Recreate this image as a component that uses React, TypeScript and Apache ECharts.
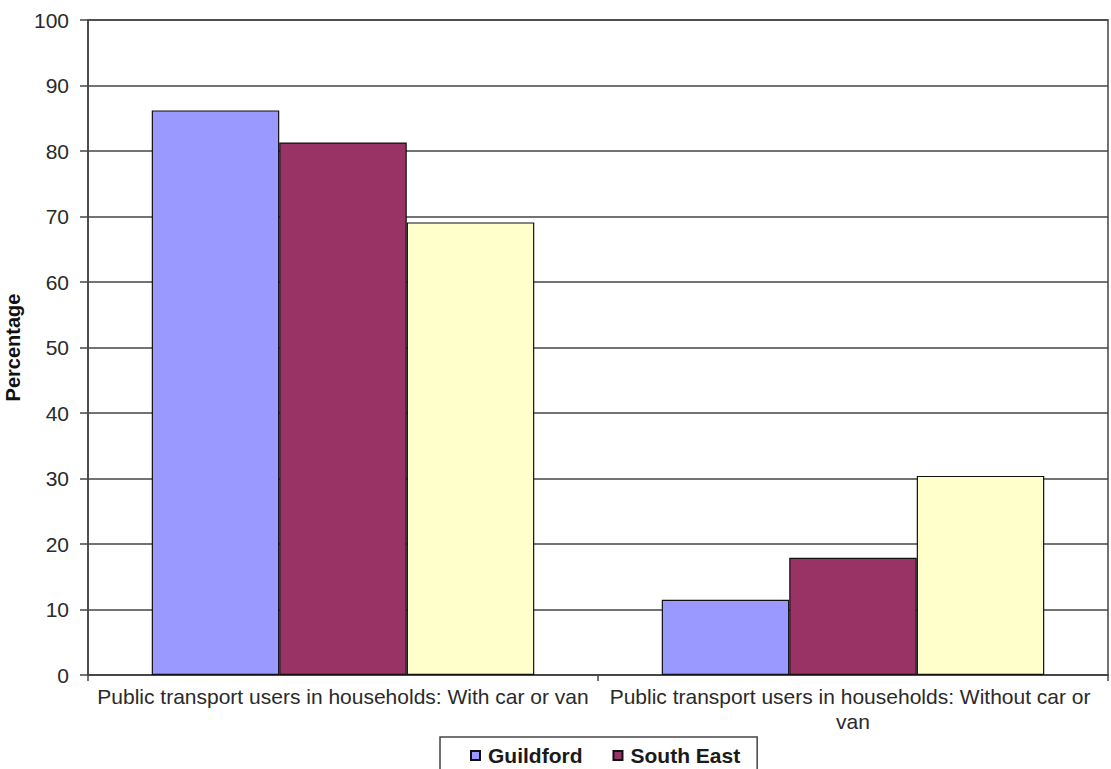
import React, { useEffect, useRef } from "react";
import * as echarts from "echarts";

// Categories along the x axis
const categories: string[] = [
  "Public transport users in households: With car or van",
  "Public transport users in households: Without car or van",
];

// Percentages per area
const guildford: number[] = [86.2, 11.5];
const southEast: number[] = [81.3, 17.9];
const england: number[] = [69.1, 30.4];

const seriesNames: string[] = ["Guildford", "South East", "England"];
const seriesColors: string[] = ["#9999FF", "#993366", "#FFFFCC"];

// Only the first two entries fit in the visible legend row
const legendNames: string[] = ["Guildford", "South East"];

const FONT = "'Liberation Sans', Arial, sans-serif";
const LINE = "#444444";
const TEXT = "#2a2a2a";

export default function App() {
  const ref = useRef<HTMLDivElement>(null);

  useEffect(() => {
    if (!ref.current) return;
    const chart = echarts.init(ref.current, null, { renderer: "svg" });
    const values = [guildford, southEast, england];

    chart.setOption({
      animation: false,
      backgroundColor: "#ffffff",
      textStyle: { fontFamily: FONT },
      grid: {
        left: 88,
        right: 3,
        top: 20,
        bottom: 94,
        outerBoundsMode: "none",
        containLabel: false,
        show: true,
        borderColor: LINE,
        borderWidth: 1.5,
      },
      legend: {
        data: legendNames,
        left: 440,
        top: 737,
        orient: "horizontal",
        padding: [8, 17, 40, 30],
        itemGap: 30,
        itemWidth: 9,
        itemHeight: 9,
        borderColor: LINE,
        borderWidth: 1.5,
        icon: "rect",
        textStyle: {
          fontFamily: FONT,
          fontSize: 21,
          fontWeight: "bold",
          color: "#1a1a1a",
          padding: [0, 0, 0, 3],
        },
      },
      xAxis: {
        type: "category",
        data: categories,
        axisLine: { lineStyle: { color: LINE, width: 1.5 } },
        axisTick: { show: true, length: 6, interval: 0, lineStyle: { color: LINE, width: 1.5 } },
        axisLabel: {
          interval: 0,
          fontFamily: FONT,
          fontSize: 21,
          color: TEXT,
          margin: 9,
          width: 500,
          overflow: "break",
          lineHeight: 25,
        },
      },
      yAxis: {
        type: "value",
        min: 0,
        max: 100,
        interval: 10,
        name: "Percentage",
        nameLocation: "middle",
        nameRotate: 90,
        nameGap: 54,
        nameTextStyle: { fontFamily: FONT, fontSize: 20, fontWeight: "bold", color: "#111" },
        axisLine: { show: true, lineStyle: { color: LINE, width: 1.5 } },
        axisTick: { show: true, inside: false, length: 8, lineStyle: { color: LINE, width: 1.5 } },
        axisLabel: { fontFamily: FONT, fontSize: 21, color: TEXT, margin: 19 },
        splitLine: { show: true, lineStyle: { color: LINE, width: 1.5 } },
      },
      series: seriesNames.map((name, i) => ({
        name,
        type: "bar",
        data: values[i],
        barGap: "0%",
        barCategoryGap: "25%",
        itemStyle: { color: seriesColors[i], borderColor: "#111", borderWidth: 1.2 },
      })),
    });

    return () => chart.dispose();
  }, []);

  return (
    <div
      ref={ref}
      style={{ position: "fixed", left: 0, top: 0, width: 1111, height: 769, background: "#fff" }}
    />
  );
}
